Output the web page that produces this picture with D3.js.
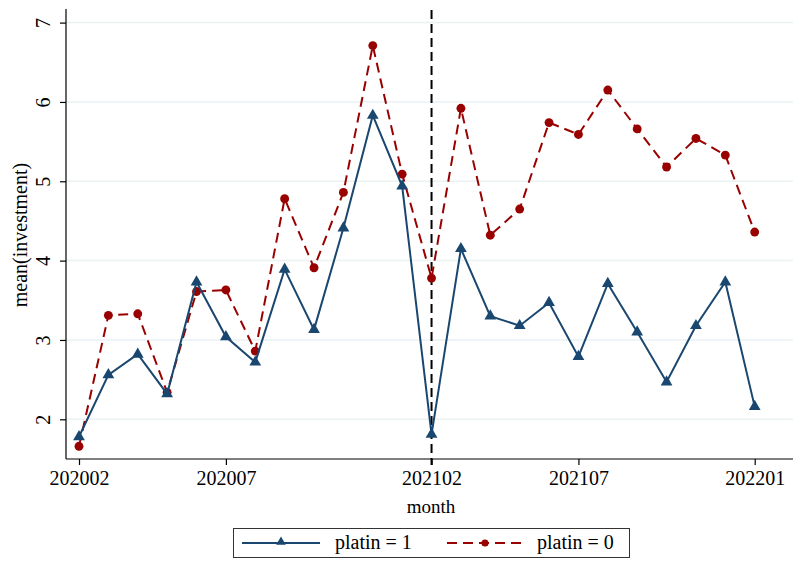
<!DOCTYPE html>
<html>
<head>
<meta charset="utf-8">
<script src="https://cdn.jsdelivr.net/npm/d3@7"></script>
<style>
  body { margin: 0; background: #fff; }
  svg { display: block; }
  svg text { font-family: "Liberation Serif", "Times New Roman", serif; }
</style>
</head>
<body>
<script>
(function(){
  var width = 793;
  var height = 570;

  // months 202002 .. 202201
  var months = ["202002","202003","202004","202005","202006","202007","202008","202009",
                "202010","202011","202012","202101","202102","202103","202104","202105",
                "202106","202107","202108","202109","202110","202111","202112","202201"];
  var tickMonths = ["202002","202007","202102","202107","202201"];
  var yTicks = [2, 3, 4, 5, 6, 7];
  var eventMonth = "202102";

  var platin1 = [1.78, 2.56, 2.82, 2.32, 3.73, 3.04, 2.72, 3.89, 3.13, 4.41, 5.83, 4.94,
                 1.81, 4.15, 3.30, 3.18, 3.47, 2.79, 3.71, 3.10, 2.47, 3.18, 3.73, 2.16];
  var platin0 = [1.66, 3.31, 3.33, 2.34, 3.61, 3.63, 2.86, 4.78, 3.91, 4.86, 6.71, 5.09,
                 3.78, 5.92, 4.32, 4.65, 5.74, 5.59, 6.15, 5.66, 5.18, 5.54, 5.33, 4.36];

  var blue = "#1a476f";
  var red = "#990000";

  var svg = d3.select("body").append("svg")
      .attr("width", width)
      .attr("height", height);

  // plot area
  var left = 66, right = 793, top = 9, bottom = 459;

  var xScale = d3.scaleLinear()
      .domain([0, months.length - 1])
      .range([79, 754.7]);
  var yScale = d3.scaleLinear()
      .domain([2, 7])
      .range([419.3, 22.6]);

  // gridlines
  svg.append("g").selectAll("line")
      .data(yTicks)
      .enter().append("line")
      .attr("x1", left).attr("x2", right)
      .attr("y1", (d) => yScale(d)).attr("y2", (d) => yScale(d))
      .attr("stroke", "#eaf2f3")
      .attr("stroke-width", 1.5);

  // y axis
  var yAxis = svg.append("g")
      .attr("transform", "translate(" + left + ",0)")
      .call(d3.axisLeft(yScale).tickValues(yTicks).tickSize(6).tickFormat(d3.format("d")));
  yAxis.attr("font-family", null);
  yAxis.select(".domain").attr("d", "M0," + top + "V" + bottom).attr("stroke", "#000").attr("stroke-width", 1.2);
  yAxis.selectAll(".tick line").attr("stroke", "#000").attr("stroke-width", 1.2);
  yAxis.selectAll(".tick text")
      .attr("x", 0).attr("dy", 0)
      .attr("transform", "translate(-16,0) rotate(-90)")
      .attr("text-anchor", "middle")
      .attr("font-size", 20)
      .attr("fill", "#000");

  // x axis
  var xAxis = svg.append("g")
      .attr("transform", "translate(0," + bottom + ")")
      .call(d3.axisBottom(xScale)
          .tickValues(tickMonths.map((m) => months.indexOf(m)))
          .tickSize(6)
          .tickFormat((i) => months[i]));
  xAxis.attr("font-family", null);
  xAxis.select(".domain").attr("d", "M" + left + ",0H" + right).attr("stroke", "#000").attr("stroke-width", 1.2);
  xAxis.selectAll(".tick line").attr("stroke", "#000").attr("stroke-width", 1.2);
  xAxis.selectAll(".tick text")
      .attr("y", 12).attr("dy", "0.71em")
      .attr("font-size", 20)
      .attr("fill", "#000");

  // axis titles
  svg.append("text")
      .attr("transform", "translate(27,235) rotate(-90)")
      .attr("text-anchor", "middle")
      .attr("font-size", 20)
      .text("mean(investment)");
  svg.append("text")
      .attr("x", 431).attr("y", 513)
      .attr("text-anchor", "middle")
      .attr("font-size", 19)
      .text("month");

  // event line
  svg.append("line")
      .attr("x1", xScale(months.indexOf(eventMonth))).attr("x2", xScale(months.indexOf(eventMonth)))
      .attr("y1", 10).attr("y2", bottom + 6)
      .attr("stroke", "#000")
      .attr("stroke-width", 2)
      .attr("stroke-dasharray", "9,5");

  var linefunc = d3.line()
      .x((d, i) => xScale(i))
      .y((d) => yScale(d));

  var tri = d3.symbol().type(d3.symbolTriangle).size(60);
  var circ = d3.symbol().type(d3.symbolCircle).size(62);

  // platin = 0
  svg.append("path")
      .attr("d", linefunc(platin0))
      .attr("fill", "none")
      .attr("stroke", red)
      .attr("stroke-width", 2)
      .attr("stroke-dasharray", "10,6");
  svg.append("g").selectAll("path")
      .data(platin0)
      .enter().append("path")
      .attr("d", circ)
      .attr("transform", (d, i) => "translate(" + xScale(i) + "," + yScale(d) + ")")
      .attr("fill", red);

  // platin = 1
  svg.append("path")
      .attr("d", linefunc(platin1))
      .attr("fill", "none")
      .attr("stroke", blue)
      .attr("stroke-width", 2);
  svg.append("g").selectAll("path")
      .data(platin1)
      .enter().append("path")
      .attr("d", tri)
      .attr("transform", (d, i) => "translate(" + xScale(i) + "," + yScale(d) + ")")
      .attr("fill", blue);

  // legend
  var lg = svg.append("g");
  lg.append("rect")
      .attr("x", 233.5).attr("y", 528.5)
      .attr("width", 396).attr("height", 29)
      .attr("fill", "#fff")
      .attr("stroke", "#333")
      .attr("stroke-width", 1);
  var ly = 543;
  lg.append("line").attr("x1", 242).attr("x2", 320).attr("y1", ly).attr("y2", ly)
      .attr("stroke", blue).attr("stroke-width", 2);
  lg.append("path").attr("d", d3.symbol().type(d3.symbolTriangle).size(40))
      .attr("transform", "translate(281," + (ly - 1) + ")").attr("fill", blue);
  lg.append("text").attr("x", 335).attr("y", ly + 6).attr("font-size", 20).text("platin = 1");
  lg.append("line").attr("x1", 447).attr("x2", 525).attr("y1", ly).attr("y2", ly)
      .attr("stroke", red).attr("stroke-width", 2).attr("stroke-dasharray", "10,6");
  lg.append("path").attr("d", d3.symbol().type(d3.symbolCircle).size(40))
      .attr("transform", "translate(485," + ly + ")").attr("fill", red);
  lg.append("text").attr("x", 537).attr("y", ly + 6).attr("font-size", 20).text("platin = 0");
})();
</script>
</body>
</html>
